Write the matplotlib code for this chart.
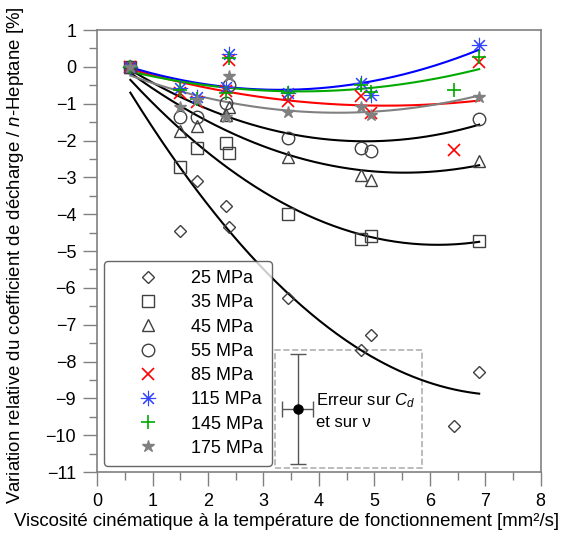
import numpy as np
import matplotlib
matplotlib.use("Agg")
import matplotlib.pyplot as plt
from matplotlib.patches import Rectangle

plt.rcParams['font.family'] = ['Liberation Sans', 'DejaVu Sans']
plt.rcParams['mathtext.fontset'] = 'custom'
plt.rcParams['mathtext.rm'] = 'Liberation Sans'
plt.rcParams['mathtext.it'] = 'Liberation Sans:italic'

# viscosity values [mm2/s]
x_main = [0.6, 1.5, 1.81, 2.33, 2.38, 3.45, 4.76, 4.94, 6.89]

p25_x = [0.6, 1.5, 1.81, 2.33, 2.38, 3.45, 4.76, 4.94, 6.43, 6.89]
p25_y = [0, -4.46, -3.09, -3.78, -4.34, -6.27, -7.69, -7.28, -9.76, -8.29]
p35_y = [0, -2.73, -2.21, -2.07, -2.33, -3.99, -4.66, -4.59, -4.73]
p45_y = [0, -1.73, -1.60, -1.30, -1.10, -2.45, -2.93, -3.07, -2.55]
p55_y = [0, -1.37, -1.37, -0.98, -0.50, -1.92, -2.21, -2.28, -1.41]
p85_x = [0.6, 1.5, 1.81, 2.33, 2.38, 3.45, 4.76, 4.94, 6.43, 6.89]
p85_y = [0, -0.72, -0.96, -0.65, 0.19, -0.92, -0.79, -1.24, -2.26, 0.12]
p115_y = [0, -0.58, -0.81, -0.55, 0.35, -0.70, -0.43, -0.76, 0.60]
p145_x = [0.6, 1.5, 1.81, 2.33, 2.38, 3.45, 4.76, 4.94, 6.43, 6.89]
p145_y = [0, -0.63, -0.88, -0.72, 0.24, -0.72, -0.49, -0.67, -0.64, 0.28]
p175_y = [0, -1.08, -0.90, -1.35, -0.26, -1.23, -1.08, -1.30, -0.81]

labels = ['25 MPa', '35 MPa', '45 MPa', '55 MPa', '85 MPa', '115 MPa', '145 MPa', '175 MPa']

# error bar example
err_x, err_y = 3.62, -9.29
err_dx, err_dy = 0.28, 1.5

series = [
    (p25_x, p25_y, dict(marker='D', ms=6, mfc='none', mec='#404040'), 'black'),
    (x_main, p35_y, dict(marker='s', ms=9, mfc='none', mec='#404040'), 'black'),
    (x_main, p45_y, dict(marker='^', ms=8, mfc='none', mec='#404040'), 'black'),
    (x_main, p55_y, dict(marker='o', ms=9, mfc='none', mec='#404040'), 'black'),
    (p85_x, p85_y, dict(marker='x', ms=9, mec='red', mew=1.2), 'red'),
    (x_main, p115_y, dict(marker=(8, 2, 0), ms=11, mec='#3344ff', mew=0.8), 'blue'),
    (p145_x, p145_y, dict(marker='+', ms=10, mec='#00aa00', mew=1.2), '#00aa00'),
    (x_main, p175_y, dict(marker='*', ms=9, mfc='#808080', mec='#808080'), '#808080'),
]

fig = plt.figure(figsize=(5.71, 5.37), dpi=100)
ax = fig.add_axes([0.170, 0.121, 0.777, 0.823])

for (xs, ys, mk, lc), lab in zip(series, labels):
    xs = np.array(xs)
    ys = np.array(ys)
    coef = np.polyfit(xs, ys, 2)
    xx = np.linspace(xs.min(), xs.max(), 200)
    ax.plot(xx, np.polyval(coef, xx), color=lc, lw=1.5, zorder=2)
    ax.plot(xs, ys, ls='none', label=lab, zorder=3, **mk)

ax.errorbar(err_x, err_y, xerr=err_dx, yerr=err_dy, fmt='o', color='black',
            ms=6.5, ecolor='#555555', elinewidth=1, capsize=5.5, capthick=1)
ax.add_patch(Rectangle((3.21, -10.9), 2.65, 3.2, fill=False, ls='--',
                       ec='#b0b0b0', lw=1.2))
ax.text(3.95, -9.05, 'Erreur sur $C_d$', fontsize=12, va='center')
ax.text(3.95, -9.65, 'et sur \u03bd', fontsize=12, va='center')

leg = ax.legend(loc='lower left', bbox_to_anchor=(0.016, 0.014), borderaxespad=0,
                fontsize=13, frameon=True, fancybox=True, labelspacing=0.4,
                handletextpad=0.5, borderpad=0.5, handlelength=3.8)
leg.get_frame().set_edgecolor('#404040')
leg.get_frame().set_linewidth(1.0)

ax.set_xlim(0, 8)
ax.set_ylim(-11, 1)
ax.set_xticks(np.arange(0, 9, 1))
ax.set_xticks(np.arange(0, 8.01, 0.5), minor=True)
ax.set_yticks(np.arange(-11, 2, 1))
ax.set_yticks(np.arange(-11, 1.01, 0.5), minor=True)
ax.tick_params(which='major', direction='out', length=10, width=1, color='#808080',
               labelsize=13, pad=5)
ax.tick_params(which='minor', direction='out', length=5.5, width=1, color='#808080')
for s in ax.spines.values():
    s.set_color('#808080')
    s.set_linewidth(1.2)

fig.text(0.502, 0.028, 'Viscosit\u00e9 cin\u00e9matique \u00e0 la temp\u00e9rature de fonctionnement [mm\u00b2/s]',
         fontsize=13.4, ha='center', va='center')
fig.text(0.027, 0.525, 'Variation relative du coefficient de d\u00e9charge / $n$-Heptane [%]',
         fontsize=13.4, ha='center', va='center', rotation=90)

fig.savefig('out.png', dpi=100)
